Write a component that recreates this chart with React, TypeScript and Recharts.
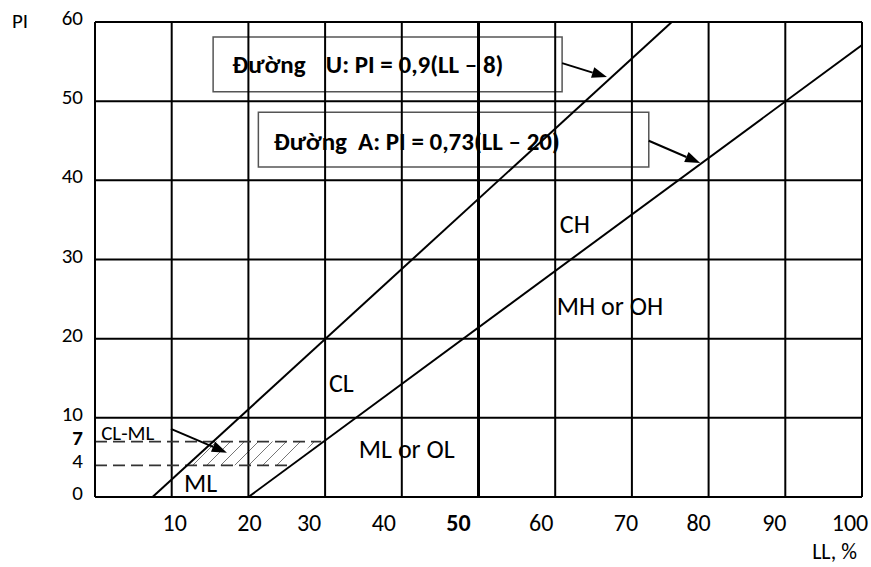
import {
  ComposedChart,
  XAxis,
  YAxis,
  Line,
  Area,
  Scatter,
  ReferenceLine,
  ReferenceArea,
} from 'recharts';

const FONT = 'Carlito, Lato, sans-serif';

// axis ticks
const llTicks = [10, 20, 30, 40, 50, 60, 70, 80, 90, 100];
const piTicks = [0, 4, 7, 10, 20, 30, 40, 50, 60];
const gridLL = [10, 20, 30, 40, 60, 70, 80, 90, 100]; // 50 gets a heavier line below
const gridPI = [10, 20, 30, 40, 50, 60];

// U and A lines as drawn in the figure
const uLine = [{ ll: 7.5, pi: 0 }, { ll: 75.2, pi: 60 }];
const aLine = [{ ll: 20, pi: 0 }, { ll: 100, pi: 57.1 }];

// hatched CL-ML band, PI 4..7
const clmlBand = [
  { ll: 12.3, band: [4, 4] },
  { ll: 15.7, band: [4, 7] },
  { ll: 24.5, band: [4, 7] },
  { ll: 29, band: [7, 7] },
];

const dashedLevels = [
  { pi: 7, end: 29.5 },
  { pi: 4, end: 25.5 },
];

const zoneLabels = [
  { ll: 60.6, pi: 34.5, text: 'CH' },
  { ll: 60.2, pi: 24.1, text: 'MH or OH' },
  { ll: 30.5, pi: 14.4, text: 'CL' },
  { ll: 34.4, pi: 6.1, text: 'ML or OL' },
  { ll: 11.6, pi: 1.8, text: 'ML' },
];
const smallLabels = [{ ll: 0.8, pi: 8.1, text: 'CL-ML' }];

// equation boxes + their text
const boxes = [
  { x1: 15.4, x2: 60.9, y1: 51.2, y2: 58.1 },
  { x1: 21.3, x2: 72.2, y1: 41.7, y2: 48.6 },
];
const boxTexts = [
  { ll: 17.9, pi: 54.6, text: 'Đường' },
  { ll: 30.1, pi: 54.6, text: 'U: PI = 0,9(LL – 8)' },
  { ll: 23.3, pi: 44.9, text: 'Đường' },
  { ll: 34.3, pi: 44.9, text: 'A: PI = 0,73(LL – 20)' },
];

const arrows = [
  { from: { x: 60.9, y: 54.8 }, to: { x: 66.75, y: 53.05 } },
  { from: { x: 72.2, y: 45.0 }, to: { x: 78.9, y: 42.2 } },
  { from: { x: 9.9, y: 8.6 }, to: { x: 17.2, y: 5.6 } },
];

// the original's x labels sit a bit off their grid lines
const xNudge: Record<number, number> = {
  10: 3, 20: 1, 30: -16, 40: -18, 50: -20, 60: -14, 70: -6, 80: -10, 90: -11, 100: -12,
};

function XTick({ x, y, payload }: any) {
  const v = payload.value;
  return (
    <text
      x={x + (xNudge[v] ?? 0)}
      y={y + 25}
      textAnchor="middle"
      dominantBaseline="central"
      fontFamily={FONT}
      fontSize={24}
      fontWeight={v === 50 ? 700 : 400}
      fill="#000"
    >
      {v}
    </text>
  );
}

function YTick({ x, y, payload }: any) {
  const v = payload.value;
  return (
    <text
      x={x - 12}
      y={y - 4}
      textAnchor="end"
      dominantBaseline="central"
      fontFamily={FONT}
      fontSize={21}
      fontWeight={v === 7 ? 700 : 400}
      fill="#000"
    >
      {v}
    </text>
  );
}

const textShape = (size: number, weight: number) => (p: any) => (
  <text
    x={p.cx}
    y={p.cy}
    dominantBaseline="central"
    fontFamily={FONT}
    fontSize={size}
    fontWeight={weight}
    fill="#000"
  >
    {p.payload.text}
  </text>
);

function arrowShape(p: any) {
  const { x1, y1, x2, y2 } = p;
  const ang = Math.atan2(y2 - y1, x2 - x1);
  const len = 15;
  const half = 5.5;
  const bx = x2 - len * Math.cos(ang);
  const by = y2 - len * Math.sin(ang);
  const nx = -Math.sin(ang) * half;
  const ny = Math.cos(ang) * half;
  return (
    <g>
      <line x1={x1} y1={y1} x2={bx} y2={by} stroke="#000" strokeWidth={2} />
      <polygon points={`${x2},${y2} ${bx + nx},${by + ny} ${bx - nx},${by - ny}`} fill="#000" />
    </g>
  );
}

export default function App() {
  return (
    <div style={{ position: 'fixed', left: 0, top: 0, width: 871, height: 567, background: '#fff' }}>
      <ComposedChart
        width={871}
        height={567}
        data={clmlBand}
        margin={{ top: 22, right: 9, bottom: 30, left: 0 }}
      >
        <defs>
          <pattern id="hatch" patternUnits="userSpaceOnUse" width="14" height="14">
            <path d="M0,14 L14,0 M-3,3 L3,-3 M11,17 L17,11" stroke="#666" strokeWidth="0.9" />
          </pattern>
        </defs>

        <XAxis
          dataKey="ll"
          type="number"
          domain={[0, 100]}
          ticks={llTicks}
          interval={0}
          allowDataOverflow
          height={40}
          tickSize={0}
          tickMargin={0}
          tickLine={false}
          axisLine={{ stroke: '#000', strokeWidth: 2 }}
          tick={<XTick />}
        />
        <YAxis
          dataKey="pi"
          type="number"
          domain={[0, 60]}
          ticks={piTicks}
          interval={0}
          allowDataOverflow
          width={95}
          tickSize={0}
          tickMargin={0}
          tickLine={false}
          axisLine={{ stroke: '#000', strokeWidth: 2 }}
          tick={<YTick />}
        />

        {gridLL.map((v) => (
          <ReferenceLine key={`v${v}`} x={v} stroke="#000" strokeWidth={2} />
        ))}
        <ReferenceLine x={50} stroke="#000" strokeWidth={3} />
        {gridPI.map((v) => (
          <ReferenceLine key={`h${v}`} y={v} stroke="#000" strokeWidth={2} />
        ))}

        <Area
          dataKey="band"
          type="linear"
          stroke="none"
          fill="url(#hatch)"
          fillOpacity={1}
          isAnimationActive={false}
        />
        {dashedLevels.map((d) => (
          <ReferenceLine
            key={`d${d.pi}`}
            segment={[{ x: 0, y: d.pi }, { x: d.end, y: d.pi }]}
            stroke="#333"
            strokeWidth={1.6}
            strokeDasharray="12 6"
          />
        ))}

        <Line data={uLine} dataKey="pi" type="linear" stroke="#000" strokeWidth={2} dot={false} isAnimationActive={false} />
        <Line data={aLine} dataKey="pi" type="linear" stroke="#000" strokeWidth={2} dot={false} isAnimationActive={false} />

        {boxes.map((b, i) => (
          <ReferenceArea key={`b${i}`} x1={b.x1} x2={b.x2} y1={b.y1} y2={b.y2} fill="none" stroke="#555" strokeWidth={1.5} />
        ))}

        <Scatter data={zoneLabels} dataKey="pi" shape={textShape(26, 400)} isAnimationActive={false} />
        <Scatter data={smallLabels} dataKey="pi" shape={textShape(21, 400)} isAnimationActive={false} />
        <Scatter data={boxTexts} dataKey="pi" shape={textShape(25, 700)} isAnimationActive={false} />

        {arrows.map((a, i) => (
          <ReferenceLine key={`a${i}`} segment={[a.from, a.to]} shape={arrowShape} />
        ))}

        <text x={12} y={21} dominantBaseline="central" fontFamily={FONT} fontSize={21} fill="#000">
          PI
        </text>
        <text x={857} y={551} textAnchor="end" dominantBaseline="central" fontFamily={FONT} fontSize={22} fill="#000">
          LL, %
        </text>
      </ComposedChart>
    </div>
  );
}
